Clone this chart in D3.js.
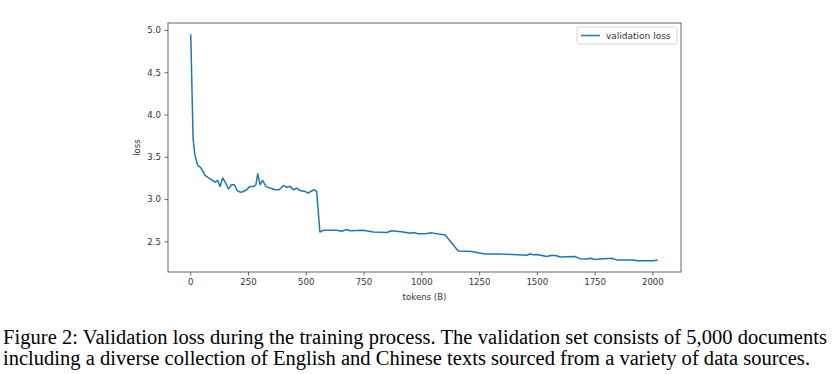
<!DOCTYPE html>
<html>
<head>
<meta charset="utf-8">
<script src="https://cdn.jsdelivr.net/npm/d3@7"></script>
<style>
  body { margin: 0; background: #fff; }
  svg { display: block; }
</style>
</head>
<body>
<div id="chart"></div>
<script>
const width = 834
const height = 374

/* Data: tokens (B) and validation loss */
const tokens = [2, 12, 20, 32, 46, 64, 85, 107, 118, 129, 140, 153, 165, 179, 190, 203, 218, 229, 244, 258, 276, 284, 292, 302, 313, 328, 345, 367, 385, 403, 417, 432, 446, 461, 475, 497, 511, 521, 536, 547, 561, 576, 634, 655, 677, 691, 749, 792, 850, 872, 922, 951, 965, 987, 1016, 1045, 1103, 1160, 1218, 1276, 1341, 1456, 1471, 1485, 1500, 1543, 1565, 1586, 1600, 1665, 1686, 1716, 1733, 1752, 1774, 1824, 1846, 1918, 1935, 2004, 2023]
const loss = [4.95, 3.72, 3.52, 3.40, 3.37, 3.28, 3.24, 3.20, 3.22, 3.15, 3.25, 3.19, 3.12, 3.17, 3.17, 3.10, 3.08, 3.09, 3.11, 3.15, 3.15, 3.17, 3.30, 3.17, 3.22, 3.15, 3.13, 3.11, 3.11, 3.16, 3.14, 3.15, 3.11, 3.13, 3.10, 3.09, 3.07, 3.09, 3.11, 3.09, 2.61, 2.63, 2.63, 2.62, 2.64, 2.625, 2.63, 2.61, 2.605, 2.625, 2.61, 2.595, 2.605, 2.59, 2.59, 2.60, 2.575, 2.385, 2.38, 2.35, 2.35, 2.335, 2.35, 2.34, 2.345, 2.32, 2.335, 2.33, 2.315, 2.32, 2.295, 2.29, 2.30, 2.285, 2.29, 2.30, 2.28, 2.28, 2.27, 2.27, 2.28]

const xTicks = [0, 250, 500, 750, 1000, 1250, 1500, 1750, 2000]
const yTicks = [2.5, 3.0, 3.5, 4.0, 4.5, 5.0]
const seriesName = 'validation loss'
const caption = [
    'Figure 2: Validation loss during the training process. The validation set consists of 5,000 documents',
    'including a diverse collection of English and Chinese texts sourced from a variety of data sources.'
]

const points = tokens.map((t, i) => ({ t, v: loss[i] }))

/* Plot area in the page */
const box = { left: 168, right: 681, top: 23, bottom: 272 }
const labelFont = '8.6px'

const x = d3.scaleLinear().domain([-96.5, 2124]).range([box.left, box.right])
const y = d3.scaleLinear().domain([2.137, 5.083]).range([box.bottom, box.top])

const svg = d3.select('#chart').append('svg').attr('width', width).attr('height', height)

/* Axes */
const xAxis = svg.append('g')
    .attr('transform', `translate(0,${box.bottom})`)
    .call(d3.axisBottom(x).tickValues(xTicks).tickFormat(d3.format('d')).tickSize(3.5).tickPadding(3.5).tickSizeOuter(0))
const yAxis = svg.append('g')
    .attr('transform', `translate(${box.left},0)`)
    .call(d3.axisLeft(y).tickValues(yTicks).tickFormat(d3.format('.1f')).tickSize(3.5).tickPadding(3.5).tickSizeOuter(0))

for (const a of [xAxis, yAxis]) {
    a.select('.domain').remove()
    a.selectAll('line').attr('stroke', '#444').attr('stroke-width', 0.8)
    a.selectAll('text')
        .attr('fill', '#333')
        .style('font-family', 'DejaVu Sans')
        .style('font-size', labelFont)
}

/* Frame */
svg.append('rect')
    .attr('x', box.left)
    .attr('y', box.top)
    .attr('width', box.right - box.left)
    .attr('height', box.bottom - box.top)
    .attr('fill', 'none')
    .attr('stroke', '#555')
    .attr('stroke-width', 0.9)

/* Line */
const line = d3.line().x(d => x(d.t)).y(d => y(d.v))
svg.append('path')
    .datum(points)
    .attr('d', line)
    .attr('fill', 'none')
    .attr('stroke', '#1f77b4')
    .attr('stroke-width', 1.5)
    .attr('stroke-linejoin', 'round')

/* Axis labels */
svg.append('text')
    .text('tokens (B)')
    .attr('x', (box.left + box.right) / 2)
    .attr('y', 300)
    .attr('text-anchor', 'middle')
    .attr('fill', '#333')
    .style('font-family', 'DejaVu Sans')
    .style('font-size', labelFont)

svg.append('text')
    .text('loss')
    .attr('transform', `translate(140,${(box.top + box.bottom) / 2}) rotate(-90)`)
    .attr('text-anchor', 'middle')
    .attr('fill', '#333')
    .style('font-family', 'DejaVu Sans')
    .style('font-size', labelFont)

/* Legend */
const legend = svg.append('g').attr('transform', 'translate(577,27)')
legend.append('rect')
    .attr('width', 100)
    .attr('height', 17)
    .attr('rx', 2)
    .attr('fill', '#fff')
    .attr('stroke', '#ccc')
    .attr('stroke-width', 0.8)
legend.append('line')
    .attr('x1', 4).attr('x2', 23)
    .attr('y1', 8.5).attr('y2', 8.5)
    .attr('stroke', '#1f77b4')
    .attr('stroke-width', 1.5)
legend.append('text')
    .text(seriesName)
    .attr('x', 29)
    .attr('y', 12)
    .attr('fill', '#333')
    .style('font-family', 'DejaVu Sans')
    .style('font-size', '9px')

/* Caption */
svg.selectAll('text.caption')
    .data(caption)
    .join('text')
    .attr('class', 'caption')
    .text(d => d)
    .attr('x', 3)
    .attr('y', (d, i) => 344 + i * 21)
    .attr('textLength', (d, i) => i === 0 ? 824 : 807)
    .attr('lengthAdjust', 'spacing')
    .attr('fill', '#000')
    .style('font-family', 'Liberation Serif')
    .style('font-size', '20.5px')
</script>
</body>
</html>
